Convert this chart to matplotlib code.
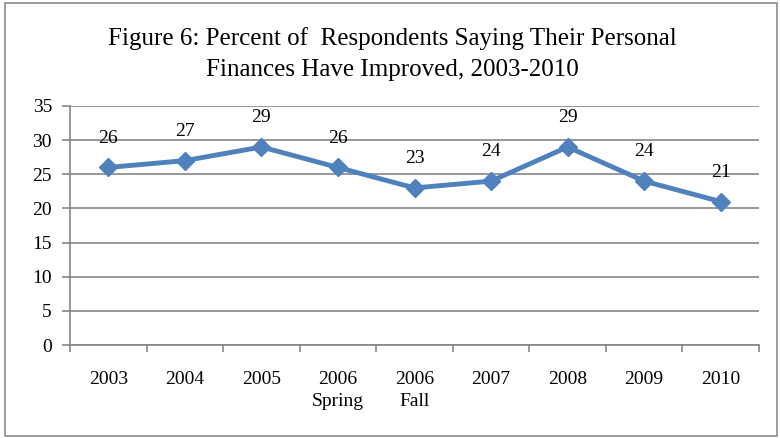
import matplotlib.pyplot as plt
from matplotlib.patches import Rectangle

plt.rcParams['font.family'] = ['Liberation Serif', 'DejaVu Serif']

# survey waves and share saying finances improved
waves = ['2003', '2004', '2005', '2006\nSpring', '2006\nFall', '2007', '2008', '2009', '2010']
improved = [26, 27, 29, 26, 23, 24, 29, 24, 21]
yticks = [0, 5, 10, 15, 20, 25, 30, 35]

fig = plt.figure(figsize=(7.8, 4.38), dpi=100)
ax = fig.add_axes([70/780, 1 - 345/438, 689/780, 239/438])

x = list(range(len(waves)))
ax.plot(x, improved, color='#4F81BD', lw=3.5, marker='D', ms=9,
        markeredgecolor='#4F81BD', zorder=3, clip_on=False)
for xi, v in zip(x, improved):
    ax.annotate(str(v), (xi, v), xytext=(0, 21), textcoords='offset points',
                ha='center', va='center', fontsize=14)

ax.set_xlim(-0.5, len(waves) - 0.5)
ax.set_ylim(0, 35)
ax.set_yticks(yticks)
ax.set_xticks([i - 0.5 for i in range(len(waves) + 1)], minor=False)
ax.set_xticklabels([])
ax.set_xticks(x, minor=True)
ax.set_xticklabels(waves, minor=True, fontsize=14, linespacing=1.35)
ax.tick_params(axis='x', which='minor', length=0, pad=19)
ax.tick_params(axis='x', which='major', length=5, color='#868686', width=1.2)
ax.tick_params(axis='y', length=6, color='#868686', width=1.2, labelsize=14, pad=7)

ax.grid(axis='y', color='#868686', lw=1.2)
ax.set_axisbelow(True)
for s in ['top', 'right']:
    ax.spines[s].set_visible(False)
for s in ['left', 'bottom']:
    ax.spines[s].set_color('#868686')
    ax.spines[s].set_linewidth(1.2)

fig.text(0.503, 1 - 54/438, 'Figure 6: Percent of  Respondents Saying Their Personal\nFinances Have Improved, 2003-2010',
         ha='center', va='center', fontsize=18, linespacing=1.5)

fig.patches.append(Rectangle((5/780, 2/438), 772/780, 433/438, transform=fig.transFigure,
                             fill=False, edgecolor='#8c8c8c', lw=1.2))

fig.savefig('out.png', dpi=100)
